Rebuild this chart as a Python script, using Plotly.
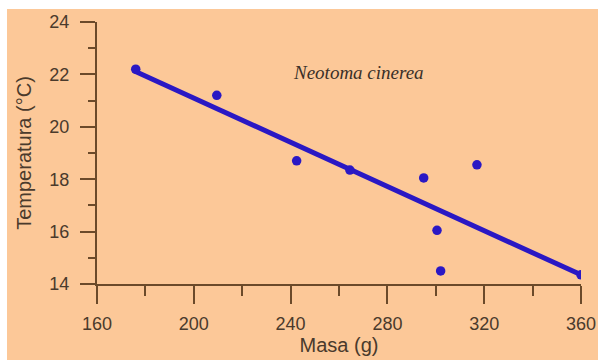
import plotly.graph_objects as go

# Body mass (g) and temperature (°C) observations
masa = [176, 209.5, 242.5, 264.5, 295, 300.5, 302, 317, 360]
temperatura = [22.2, 21.2, 18.7, 18.35, 18.05, 16.05, 14.5, 18.55, 14.35]

# Fitted trend line endpoints
ajuste_x = [175, 360]
ajuste_y = [22.15, 14.35]

x_ticks = [160, 200, 240, 280, 320, 360]
y_ticks = [14, 16, 18, 20, 22, 24]

PEACH = "#fcc898"
AXIS = "#6b4a2a"
TEXT = "#4a3a2c"
BLUE = "#2a18c4"

fig = go.Figure()

fig.add_trace(go.Scatter(
    x=ajuste_x, y=ajuste_y, mode="lines",
    line=dict(color=BLUE, width=5), hoverinfo="skip", showlegend=False,
))
fig.add_trace(go.Scatter(
    x=masa, y=temperatura, mode="markers",
    marker=dict(color=BLUE, size=9.5), showlegend=False,
))

fig.add_annotation(
    x=268, y=22.07, xref="x", yref="y", text="<i>Neotoma cinerea</i>",
    showarrow=False, font=dict(family="Liberation Serif", size=19, color="#3a3028"),
)

# Peach panel behind the whole chart (leaves a thin white strip top/left)
L, R, T, B = 97, 17, 22, 76
W, H = 598, 360
pw, ph = W - L - R, H - T - B
fig.add_shape(
    type="rect", xref="paper", yref="paper", layer="below",
    x0=(7 - L) / pw, x1=(W - L) / pw,
    y0=-(H - (H - B)) / ph, y1=((H - B) - 9) / ph,
    fillcolor=PEACH, line=dict(width=0),
)

axis_common = dict(
    showgrid=False, zeroline=False, showline=True, automargin=False,
    ticklabeloverflow="allow",
    linecolor=AXIS, linewidth=2, ticks="outside", tickcolor=AXIS, tickwidth=2,
    tickfont=dict(family="Liberation Sans", size=18, color=TEXT),
)

fig.update_xaxes(
    range=[160, 360], tickvals=x_ticks, ticklen=18, ticklabelstandoff=4,
    minor=dict(dtick=20, tick0=160, ticklen=10, tickcolor=AXIS, tickwidth=2, ticks="outside"),
    title=dict(text="Masa (g)", font=dict(family="Liberation Sans", size=20, color=TEXT), standoff=1),
    **axis_common,
)
fig.update_yaxes(
    range=[14, 24], tickvals=y_ticks, ticklen=15, ticklabelstandoff=7,
    minor=dict(dtick=1, tick0=14, ticklen=7, tickcolor=AXIS, tickwidth=2, ticks="outside"),
    title=dict(text="Temperatura (°C)", font=dict(family="Liberation Sans", size=20, color=TEXT), standoff=12),
    **axis_common,
)

fig.update_layout(
    width=W, height=H,
    margin=dict(l=L, r=R, t=T, b=B),
    paper_bgcolor="white", plot_bgcolor="rgba(0,0,0,0)",
)

fig.write_html("out.html")
